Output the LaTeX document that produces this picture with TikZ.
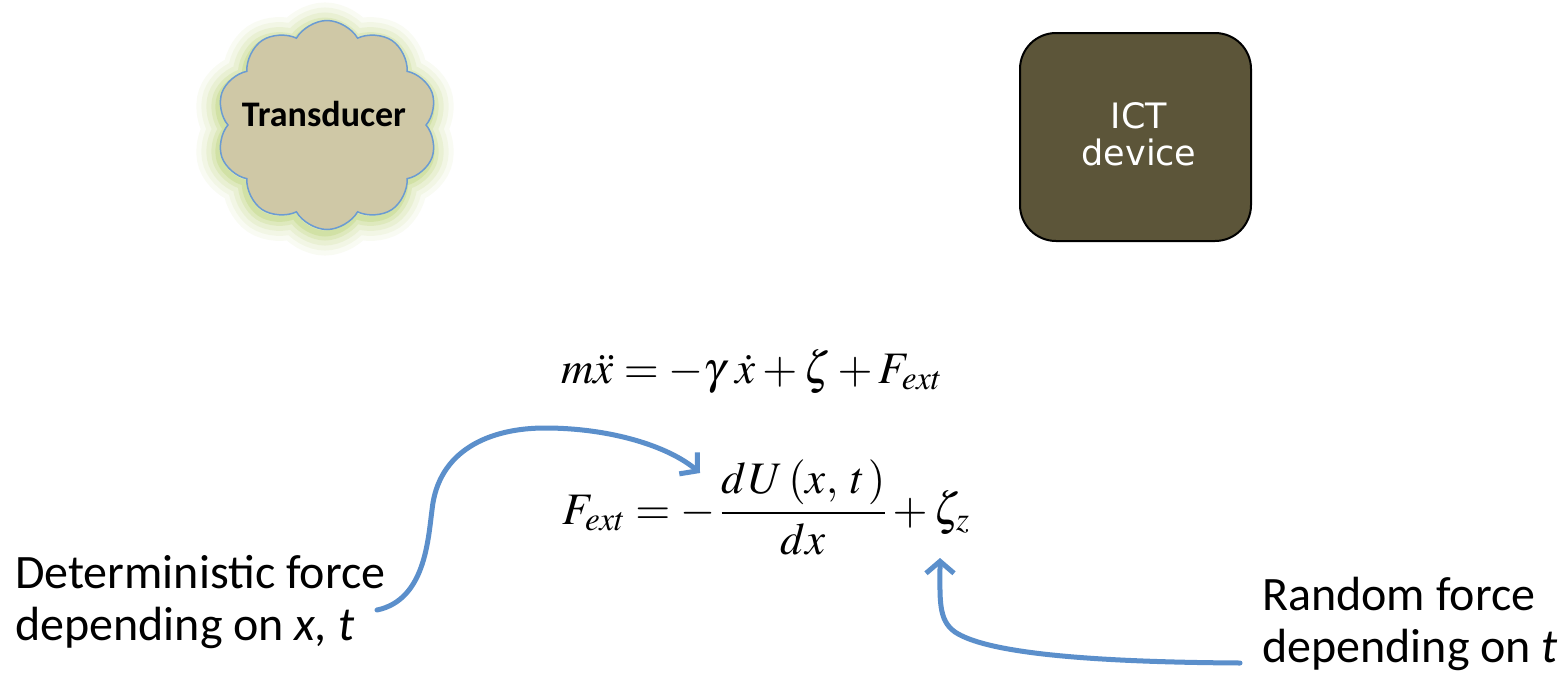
\documentclass[tikz,border=0pt]{standalone}
\usepackage{mathptmx}
\usepackage[no-math]{fontspec}
\newfontfamily\calib{Carlito}
\newfontfamily\verd{DejaVu Sans}
\usetikzlibrary{shapes.symbols,arrows.meta}
\definecolor{cloudfill}{HTML}{CFC8A6}
\definecolor{cloudline}{HTML}{6B9BD2}
\definecolor{glow}{HTML}{AECB5E}
\definecolor{ictfill}{HTML}{5C5539}
\definecolor{arrowblue}{HTML}{5B8FCB}
\tikzset{
  cloudshape/.style={cloud, cloud puffs=10, cloud puff arc=120, aspect=1.05,
    minimum width=221pt, minimum height=209pt, inner sep=0pt},
  conn/.style={draw=arrowblue, line width=5pt, line cap=round,
    -{Straight Barb[length=12pt,width=28pt,line width=5pt]}},
  labeltext/.style={font=\calib\fontsize{48}{52}\selectfont, align=left, inner sep=0pt},
  eqtext/.style={font=\fontsize{45}{52}\selectfont, inner sep=0pt}
}
\begin{document}
\begin{tikzpicture}[x=1pt,y=-1pt]
\useasboundingbox (0,0) rectangle (1568,675);
\fill[white] (0,0) rectangle (1568,675);
% glow
\foreach \w/\o in {44/0.07, 34/0.09, 24/0.13, 14/0.18, 6/0.25}
  \node[cloudshape, draw=glow, line width=\w pt, opacity=\o] at (325,129) {};
\node[cloudshape, draw=cloudline, fill=cloudfill, line width=1.5pt] (transducer) at (327,125) {};
\node[font=\calib\bfseries\fontsize{36}{40}\selectfont, inner sep=0pt] (tlabel) at (324,114) {Transducer};
% ICT device
\node[draw=black, line width=2pt, fill=ictfill, rounded corners=36pt,
  minimum width=231pt, minimum height=208pt] (ict) at (1135.5,137) {};
\node[font=\verd\fontsize{35}{37}\selectfont, text=white, align=center, inner sep=0pt, anchor=base] (ictlabel) at (1139,165) {ICT\\device};
% equations
\node[eqtext, anchor=base west] (eq1) at (561,383) {$m\ddot{x} = -\gamma\mkern4mu\dot{x} + \zeta + F_{ext}$};
\node[eqtext, anchor=base west] (eq2) at (562,524) {$\displaystyle F_{ext} = -\mkern2mu\frac{d\mkern1mu U\mkern2mu(x,\mkern3mu t\mkern1mu)}{dx} + \zeta_z$};
% labels
\node[labeltext, anchor=base west] (det) at (15,640) {Deterministic force\\depending on \textit{x, t}};
\node[labeltext, anchor=base west] (rnd) at (1262,662) {Random force\\depending on \textit{t}};
% connectors
\coordinate (dstart) at (377,610);
\coordinate (dend) at (700,473);
\coordinate (rstart) at (1240,663);
\coordinate (rend) at (940,558);
\draw[conn] (dstart) .. controls (425,600) and (428,540) .. (432,510)
  .. controls (438,450) and (490,428) .. (545,428)
  .. controls (610,428) and (668,446) .. (dend);
\draw[conn] (rstart) .. controls (1080,662) and (985,652) .. (955,632)
  .. controls (938,620) and (940,600) .. (rend);
\end{tikzpicture}
\end{document}
